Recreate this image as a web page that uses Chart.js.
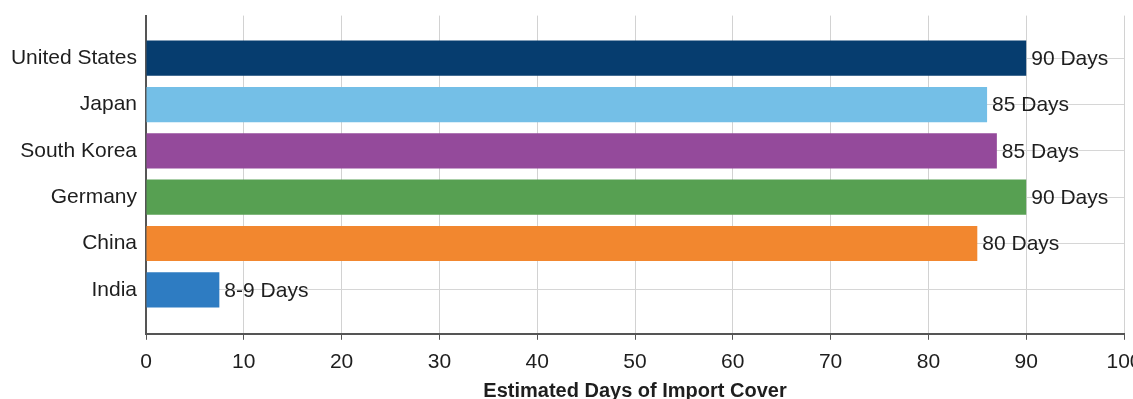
<!DOCTYPE html>
<html>
<head>
<meta charset="utf-8">
<style>
  html, body { margin: 0; padding: 0; background: #fff; overflow: hidden; }
  #wrap { position: relative; width: 1160px; height: 407px; margin-top: -6px; }
</style>
<script src="https://cdn.jsdelivr.net/npm/chart.js@4.4.1/dist/chart.umd.min.js"></script>
</head>
<body>
<div id="wrap"><canvas id="chart"></canvas></div>
<script>
  const countries = ['United States', 'Japan', 'South Korea', 'Germany', 'China', 'India'];
  const days = [90, 86, 87, 90, 85, 7.5];
  const dayLabels = ['90 Days', '85 Days', '85 Days', '90 Days', '80 Days', '8-9 Days'];
  const barColors = ['#063d6f', '#74bfe7', '#944a9b', '#57a052', '#f2872f', '#2e7cc2'];
  const xTicks = [0, 10, 20, 30, 40, 50, 60, 70, 80, 90, 100];

  const fontFamily = '"Liberation Sans", Arial, sans-serif';
  const textColor = '#1e1e1e';

  // draws the "NN Days" text just right of each bar
  const barLabels = {
    id: 'barLabels',
    afterDatasetsDraw(chart) {
      const ctx = chart.ctx;
      const meta = chart.getDatasetMeta(0);
      ctx.save();
      ctx.font = '21px ' + fontFamily;
      ctx.fillStyle = textColor;
      ctx.textAlign = 'left';
      ctx.textBaseline = 'middle';
      meta.data.forEach(function (bar, i) {
        ctx.fillText(dayLabels[i], bar.x + 5, bar.y + 1);
      });
      ctx.restore();
    }
  };

  new Chart(document.getElementById('chart'), {
    type: 'bar',
    data: {
      datasets: [{
        data: days.map(function (d, i) { return { x: d, y: i }; }),
        backgroundColor: barColors,
        borderWidth: 0,
        barPercentage: 0.76,
        categoryPercentage: 1
      }]
    },
    options: {
      indexAxis: 'y',
      responsive: true,
      maintainAspectRatio: false,
      animation: false,
      layout: { padding: { top: 15, right: 36, left: 0, bottom: 0 } },
      plugins: { legend: { display: false }, tooltip: { enabled: false } },
      scales: {
        x: {
          type: 'linear',
          min: 0,
          max: 100,
          afterBuildTicks: function (scale) {
            scale.ticks = xTicks.map(function (v) { return { value: v }; });
          },
          ticks: {
            color: textColor,
            font: { family: fontFamily, size: 21 },
            padding: 10,
            maxRotation: 0
          },
          grid: { color: '#d2d2d2', lineWidth: 1, tickLength: 6, tickColor: '#555' },
          border: { color: '#555', width: 2 },
          title: {
            display: true,
            text: 'Estimated Days of Import Cover',
            color: textColor,
            font: { family: fontFamily, size: 20, weight: 'bold', lineHeight: 1 },
            padding: { top: -4, bottom: 0 }
          }
        },
        y: {
          type: 'linear',
          reverse: true,
          offset: false,
          min: -0.92,
          max: 5.95,
          afterBuildTicks: function (scale) {
            scale.ticks = countries.map(function (c, i) { return { value: i }; });
          },
          afterFit: function (scale) { scale.width = 146; },
          ticks: {
            color: textColor,
            font: { family: fontFamily, size: 21 },
            padding: 9,
            callback: function (v) { return countries[v]; }
          },
          grid: { color: '#d6d6d6', lineWidth: 1, drawTicks: false, offset: false },
          border: { color: '#555', width: 2 }
        }
      }
    },
    plugins: [barLabels]
  });
</script>
</body>
</html>
